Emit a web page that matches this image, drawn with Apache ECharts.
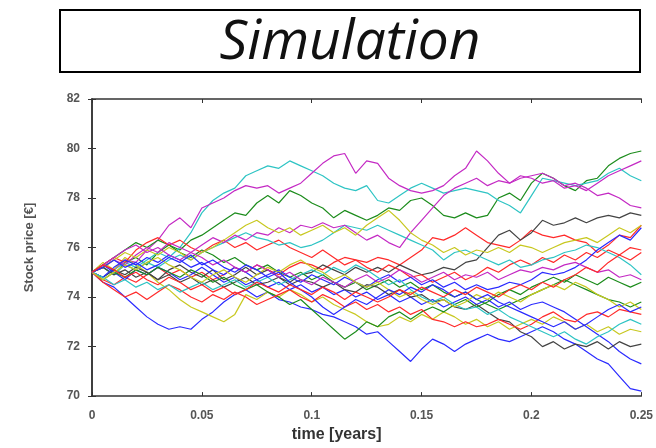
<!DOCTYPE html>
<html>
<head>
<meta charset="utf-8">
<script src="https://cdn.jsdelivr.net/npm/echarts@6/dist/echarts.min.js"></script>
<style>
  html, body { margin: 0; padding: 0; background: #fff; }
  #chart { width: 656px; height: 448px; }
</style>
</head>
<body>
<div id="chart"></div>
<script>
// time grid (years)
const times = [0, 0.005, 0.01, 0.015, 0.02, 0.025, 0.03, 0.035, 0.04, 0.045,
  0.05, 0.055, 0.06, 0.065, 0.07, 0.075, 0.08, 0.085, 0.09, 0.095,
  0.1, 0.105, 0.11, 0.115, 0.12, 0.125, 0.13, 0.135, 0.14, 0.145,
  0.15, 0.155, 0.16, 0.165, 0.17, 0.175, 0.18, 0.185, 0.19, 0.195,
  0.2, 0.205, 0.21, 0.215, 0.22, 0.225, 0.23, 0.235, 0.24, 0.245, 0.25];

const yTicks = [70, 72, 74, 76, 78, 80, 82];
const xTicks = [0, 0.05, 0.1, 0.15, 0.2, 0.25];

// simulated paths
const green1 = [75.0, 75.2, 74.9, 75.4, 75.6, 75.3, 75.8, 76.1, 75.9, 76.3,
  76.5, 76.8, 77.1, 77.4, 77.3, 77.8, 78.1, 77.8, 78.3, 78.1,
  77.8, 77.6, 77.2, 77.5, 77.3, 77.1, 77.3, 77.6, 77.5, 77.9,
  78.0, 77.7, 77.3, 77.2, 77.4, 77.2, 77.3, 78.0, 78.2, 77.9,
  78.6, 79.0, 78.8, 78.5, 78.3, 78.7, 78.8, 79.3, 79.6, 79.8, 79.9];
const green2 = [75.0, 75.3, 75.6, 75.9, 76.2, 76.0, 76.3, 76.1, 75.8, 75.6,
  75.9, 75.7, 75.4, 75.6, 75.3, 75.1, 75.3, 75.0, 74.8, 75.0,
  74.7, 74.9, 74.6, 74.4, 74.6, 74.3, 74.5, 74.7, 74.4, 74.6,
  74.3, 74.5, 74.2, 74.0, 74.2, 73.9, 73.7, 73.5, 73.7, 73.9,
  74.1, 74.3, 74.5, 74.7, 74.5, 74.3, 74.1, 73.9, 73.8, 73.6, 73.8];
const green3 = [75.0, 74.7, 75.0, 74.8, 75.1, 74.9, 75.2, 75.0, 74.8, 75.1,
  74.9, 74.6, 74.8, 74.5, 74.3, 74.5, 74.2, 74.0, 73.7, 73.9,
  73.5, 73.1, 72.7, 72.3, 72.6, 73.0, 72.8, 73.2, 73.4, 73.1,
  73.4, 73.6, 73.4, 73.7, 73.9, 73.6, 73.8, 74.1, 74.3, 74.1,
  74.4, 74.6, 74.8, 74.6, 74.9, 74.7, 74.5, 74.8, 74.6, 74.4, 74.6];
const cyan1 = [75.0, 74.8, 75.1, 75.4, 75.2, 75.5, 75.8, 75.6, 76.0, 76.6,
  77.4, 77.9, 78.2, 78.4, 78.9, 79.1, 79.3, 79.2, 79.5, 79.3,
  79.1, 78.9, 78.6, 78.4, 78.3, 78.5, 77.9, 77.8, 78.1, 78.4,
  78.6, 78.4, 78.2, 78.3, 78.4, 78.3, 78.2, 77.9, 77.7, 77.4,
  78.1, 78.8, 78.7, 78.6, 78.5, 78.6, 78.7, 79.0, 79.2, 78.9, 78.7];
const cyan2 = [75.0, 75.2, 74.9, 75.3, 75.1, 75.4, 75.2, 75.5, 75.7, 75.5,
  75.8, 76.0, 76.2, 76.4, 76.6, 76.4, 76.3, 76.1, 76.2, 76.0,
  76.1, 76.3, 76.6, 76.9, 76.8, 76.7, 76.9, 76.7, 76.5, 76.3,
  76.1, 75.9, 75.5, 75.8, 75.9, 75.7, 75.5, 75.3, 75.5, 75.2,
  75.3, 75.5, 75.6, 75.8, 75.9, 76.1, 76.0, 75.8, 75.6, 75.3, 74.9];
const cyan3 = [75.0, 74.8, 74.5, 74.7, 74.4, 74.6, 74.3, 74.5, 74.2, 74.4,
  74.6, 74.3, 74.5, 74.7, 74.4, 74.6, 74.8, 74.5, 74.7, 74.9,
  75.1, 74.9, 75.2, 75.0, 75.3, 75.1, 74.8, 74.5, 74.7, 74.3,
  74.0, 73.8, 74.0, 73.7, 73.5, 73.6, 73.3, 73.5, 73.2, 73.0,
  72.8, 72.6, 72.4, 72.6, 72.3, 72.1, 72.4, 72.6, 72.9, 73.1, 72.9];
const magenta1 = [75.0, 75.3, 75.1, 75.5, 75.4, 75.9, 76.3, 76.9, 77.2, 76.8,
  77.6, 77.8, 78.0, 78.3, 78.5, 78.4, 78.5, 78.2, 78.4, 78.6,
  79.0, 79.4, 79.7, 79.8, 79.0, 79.5, 79.4, 78.8, 78.5, 78.3,
  78.2, 78.3, 78.5, 78.9, 79.2, 79.9, 79.5, 79.0, 78.6, 78.8,
  78.9, 79.0, 78.8, 78.5, 78.6, 78.4, 78.1, 78.2, 78.0, 77.7, 77.6];
const magenta2 = [75.0, 75.2, 75.5, 75.3, 75.7, 76.0, 75.8, 76.2, 76.0, 75.8,
  76.1, 76.4, 76.2, 76.5, 76.3, 76.6, 76.5, 76.8, 76.6, 76.9,
  76.8, 77.0, 76.8, 76.9, 76.6, 76.3, 76.5, 76.2, 76.0, 76.6,
  77.1, 77.6, 78.1, 78.4, 78.6, 78.8, 78.5, 78.7, 78.6, 78.9,
  78.8, 78.6, 78.7, 78.4, 78.5, 78.3, 78.6, 78.9, 79.1, 79.3, 79.5];
const magenta3 = [75.0, 75.3, 75.6, 75.9, 76.1, 75.8, 76.0, 75.7, 75.5, 75.8,
  75.6, 75.3, 75.5, 75.2, 75.0, 75.3, 75.1, 74.8, 75.0, 74.7,
  74.5, 74.8, 74.6, 74.4, 74.7, 74.9, 74.6, 74.8, 75.1, 74.9,
  74.6, 74.8, 75.0, 74.7, 74.9, 74.8, 75.0, 74.7, 74.9, 75.1,
  75.0, 75.2, 75.1, 75.3, 75.4, 75.2, 75.0, 75.1, 74.8, 74.9, 74.7];
const black1 = [75.0, 74.8, 75.1, 74.9, 75.2, 75.0, 74.7, 75.1, 75.3, 75.0,
  74.8, 75.1, 74.7, 74.9, 75.2, 74.9, 75.1, 74.8, 74.6, 74.9,
  75.0, 75.3, 75.1, 74.9, 75.2, 75.0, 75.2, 75.0, 75.3, 75.1,
  74.9, 75.0, 75.2, 75.1, 75.4, 75.5, 76.0, 76.5, 76.7, 76.3,
  76.6, 77.1, 76.9, 77.0, 77.2, 77.0, 77.2, 77.3, 77.2, 77.4, 77.3];
const black2 = [75.0, 75.2, 74.9, 75.1, 74.8, 75.0, 74.7, 74.9, 74.6, 74.8,
  74.5, 74.7, 74.4, 74.6, 74.8, 74.5, 74.6, 74.8, 74.5, 74.7,
  74.6, 74.4, 74.6, 74.3, 74.2, 74.5, 74.4, 74.1, 74.3, 74.0,
  74.1, 73.8, 73.9, 73.6, 73.5, 73.7, 73.4, 73.1, 73.0, 72.6,
  72.4, 72.0, 72.2, 71.9, 72.1, 72.0, 72.2, 71.9, 72.2, 72.0, 72.1];
const blue1 = [75.0, 74.6, 74.4, 74.0, 73.6, 73.2, 72.9, 72.7, 72.8, 72.7,
  73.1, 73.4, 73.8, 74.1, 74.3, 74.0, 74.2, 73.9, 73.8, 73.6,
  73.5, 73.3, 73.2, 73.0, 72.8, 72.5, 72.6, 72.2, 71.8, 71.4,
  71.9, 72.3, 72.1, 71.8, 72.1, 72.3, 72.5, 72.3, 72.2, 72.4,
  72.6, 72.8, 72.6, 72.3, 72.1, 71.8, 71.5, 71.3, 70.8, 70.3, 70.2];
const blue2 = [75.0, 75.3, 75.0, 74.7, 75.1, 74.9, 75.2, 75.0, 74.7, 74.9,
  75.2, 74.9, 74.6, 74.8, 74.5, 74.7, 74.4, 74.6, 74.3, 74.5,
  74.2, 74.4, 74.1, 74.3, 74.0, 74.2, 73.9, 74.1, 73.8, 74.0,
  73.7, 73.9, 73.6, 73.8, 74.0, 73.7, 73.9, 73.6, 73.8, 73.5,
  73.7, 73.8, 73.6, 73.4, 73.1, 72.8, 72.5, 72.2, 71.8, 71.5, 71.3];
const blue3 = [75.0, 74.8, 75.2, 75.5, 75.3, 75.6, 75.4, 75.7, 75.5, 75.2,
  75.4, 75.1, 74.9, 75.2, 75.0, 74.7, 74.9, 75.1, 74.8, 74.6,
  74.9, 74.7, 74.5, 74.8, 74.6, 74.4, 74.7, 74.9, 74.6, 74.8,
  74.5, 74.7, 74.4, 74.6, 74.3, 74.5, 74.3, 74.4, 74.6, 74.5,
  74.7, 75.0, 74.9, 75.0, 75.2, 75.5, 75.9, 76.2, 76.5, 76.3, 76.8];
const blue4 = [75.0, 75.2, 75.5, 75.2, 75.4, 75.1, 75.3, 75.6, 75.4, 75.7,
  75.3, 75.5, 75.2, 75.0, 75.3, 75.1, 74.8, 75.0, 74.6, 74.3,
  74.0, 73.6, 73.3, 73.6, 73.9, 73.7, 74.0, 74.3, 74.1, 74.4,
  74.2, 74.5, 74.3, 74.0, 74.2, 73.9, 74.1, 73.8, 73.6, 73.4,
  73.2, 73.0, 72.8, 73.0, 72.7, 72.9, 73.2, 73.5, 73.7, 73.4, 73.6];
const red1 = [75.0, 74.7, 74.5, 74.8, 74.6, 74.9, 75.2, 74.9, 75.1, 74.8,
  75.0, 74.7, 74.9, 75.2, 75.0, 75.3, 75.1, 74.9, 75.2, 75.4,
  75.3, 75.1, 75.4, 75.6, 75.5, 75.4, 75.6, 75.5, 75.3, 75.6,
  75.9, 76.4, 76.3, 76.5, 76.8, 76.5, 76.2, 76.1, 76.0, 76.3,
  76.7, 76.5, 76.4, 76.5, 76.3, 76.2, 75.8, 76.1, 76.5, 76.4, 76.9];
const red2 = [75.0, 75.3, 75.6, 75.4, 75.9, 76.2, 76.4, 76.1, 76.3, 76.0,
  75.8, 76.1, 76.3, 76.0, 76.2, 75.9, 76.1, 76.3, 76.0, 75.8,
  75.6, 75.9, 75.6, 75.3, 75.5, 75.2, 75.0, 75.3, 75.1, 74.8,
  74.9, 74.6, 74.8, 75.0, 74.7, 74.9, 75.2, 75.0, 75.3, 75.5,
  75.3, 75.6, 75.4, 75.7, 75.5, 75.8, 75.6, 75.9, 75.7, 76.0, 75.9];
const red3 = [75.0, 74.6, 74.3, 74.0, 74.2, 73.9, 74.2, 74.5, 74.3, 74.0,
  73.8, 74.1, 73.9, 74.2, 74.0, 73.7, 73.9, 74.1, 74.3, 74.0,
  73.8, 74.1, 73.9, 73.6, 73.8, 73.5, 73.7, 73.4, 73.6, 73.3,
  73.5, 73.1, 73.0, 72.8, 73.0, 72.8, 72.9, 73.1, 72.9, 72.7,
  72.9, 73.2, 73.4, 73.1, 73.0, 73.3, 73.4, 73.2, 73.5, 73.4, 73.3];
const red4 = [75.0, 75.3, 75.1, 74.8, 75.0, 74.7, 74.5, 74.8, 74.6, 74.3,
  74.5, 74.2, 74.4, 74.1, 74.3, 74.6, 74.4, 74.2, 74.5, 74.3,
  74.1, 74.4, 74.2, 73.9, 74.2, 74.0, 73.8, 74.0, 74.3, 74.1,
  74.4, 74.2, 74.0, 74.3, 74.1, 74.4, 74.2, 74.0, 74.3, 74.5,
  74.3, 74.6, 74.4, 74.7, 74.9, 75.2, 75.0, 75.4, 75.7, 75.5, 75.8];
const yellow1 = [75.0, 75.4, 75.1, 75.6, 75.3, 75.0, 74.6, 74.3, 73.9, 73.6,
  73.4, 73.2, 73.0, 73.3, 74.1, 73.9, 74.2, 74.0, 74.3, 74.1,
  73.8, 74.0, 73.7, 73.5, 73.3, 73.0, 72.8, 72.9, 73.2, 73.0,
  73.3, 73.1, 73.4, 73.2, 72.9, 73.1, 72.8, 73.0, 72.7, 72.9,
  73.1, 72.9, 73.2, 73.0, 72.7, 72.9, 72.6, 72.8, 72.5, 72.7, 72.6];
const yellow2 = [75.0, 75.2, 75.5, 75.8, 75.6, 75.9, 75.7, 76.0, 75.8, 75.5,
  75.8, 76.0, 76.3, 76.6, 76.9, 77.1, 76.8, 76.6, 76.8, 76.5,
  76.7, 76.9, 76.6, 76.8, 76.5, 76.9, 77.2, 77.5, 77.1, 76.6,
  76.3, 76.1, 75.8, 76.0, 75.7, 75.9, 75.8, 76.0, 75.8, 76.1,
  76.0, 75.8, 76.0, 76.2, 76.3, 76.4, 76.2, 76.5, 76.8, 76.6, 76.9];
const yellow3 = [75.0, 74.7, 75.0, 75.3, 75.1, 75.4, 75.6, 75.3, 75.1, 74.8,
  74.6, 74.9, 75.1, 74.8, 74.6, 74.9, 75.2, 75.0, 75.3, 75.5,
  75.2, 75.0, 74.7, 74.9, 74.6, 74.4, 74.6, 74.3, 74.0, 74.2,
  73.9, 73.7, 73.9, 73.6, 73.8, 74.1, 73.9, 74.2, 74.0, 73.8,
  74.1, 74.3, 74.5, 74.3, 74.6, 74.4, 74.1, 73.9, 73.6, 73.8, 73.5];

const paths = [
  ['green1', green1, '#1c8c1c'], ['blue1', blue1, '#2a2aff'],
  ['red1', red1, '#ff2a2a'], ['cyan1', cyan1, '#2ec4c4'],
  ['magenta1', magenta1, '#c42ac4'], ['yellow1', yellow1, '#c8c820'],
  ['black1', black1, '#444444'], ['green2', green2, '#1c8c1c'],
  ['blue2', blue2, '#2a2aff'], ['red2', red2, '#ff2a2a'],
  ['cyan2', cyan2, '#2ec4c4'], ['magenta2', magenta2, '#c42ac4'],
  ['yellow2', yellow2, '#c8c820'], ['black2', black2, '#444444'],
  ['green3', green3, '#1c8c1c'], ['blue3', blue3, '#2a2aff'],
  ['red3', red3, '#ff2a2a'], ['cyan3', cyan3, '#2ec4c4'],
  ['magenta3', magenta3, '#c42ac4'], ['yellow3', yellow3, '#c8c820'],
  ['blue4', blue4, '#2a2aff'], ['red4', red4, '#ff2a2a']
];

function makeSeries() {
  return paths.map(([name, vals, color]) => ({
    name: name,
    type: 'line',
    xAxisIndex: 0,
    yAxisIndex: 0,
    data: vals.map((v, i) => [times[i], v]),
    symbol: 'none',
    lineStyle: { width: 1.2, color: color },
    itemStyle: { color: color },
    animation: false
  }));
}

const labelStyle = { color: '#555', fontFamily: 'Liberation Sans, Arial', fontSize: 12, fontWeight: 'bold' };
const axisLineStyle = { lineStyle: { color: '#333', width: 1.5 } };

let option = {
  backgroundColor: '#fff',
  animation: false,
  graphic: [
    {
      type: 'rect',
      shape: { x: 60, y: 10, width: 580, height: 62 },
      style: { fill: '#fff', stroke: '#000', lineWidth: 2 }
    },
    {
      type: 'text',
      x: 350, y: 43,
      style: {
        text: 'Simulation',
        fill: '#111',
        font: 'italic 55px "Open Sans"',
        textAlign: 'center',
        textVerticalAlign: 'middle'
      }
    }
  ],
  grid: { left: 92, right: 14, top: 99, bottom: 43 },
  xAxis: [
    {
      type: 'value', min: 0, max: 0.25, interval: 0.05,
      name: 'time [years]', nameLocation: 'middle', nameGap: 27,
      nameTextStyle: { color: '#333', fontFamily: 'Liberation Sans, Arial', fontSize: 16, fontWeight: 'bold', padding: [0, 60, 0, 0] },
      axisLine: axisLineStyle,
      axisTick: { inside: true, length: 4, lineStyle: { color: '#333' } },
      axisLabel: Object.assign({ margin: 14 }, labelStyle),
      splitLine: { show: false }
    },
    {
      type: 'value', min: 0, max: 0.25, interval: 0.05, position: 'top',
      axisLine: axisLineStyle,
      axisTick: { inside: true, length: 4, lineStyle: { color: '#333' } },
      axisLabel: { show: false },
      splitLine: { show: false }
    }
  ],
  yAxis: [
    {
      type: 'value', min: 70, max: 82, interval: 2,
      name: 'Stock price [€]', nameLocation: 'middle', nameGap: 56,
      nameTextStyle: { color: '#555', fontFamily: 'Liberation Sans, Arial', fontSize: 13, fontWeight: 'bold' },
      axisLine: axisLineStyle,
      axisTick: { inside: true, length: 4, lineStyle: { color: '#333' } },
      axisLabel: Object.assign({ margin: 12 }, labelStyle),
      splitLine: { show: false }
    },
    {
      type: 'value', min: 70, max: 82, interval: 2, position: 'right',
      axisLine: axisLineStyle,
      axisTick: { inside: true, length: 4, lineStyle: { color: '#333' } },
      axisLabel: { show: false },
      splitLine: { show: false }
    }
  ],
  series: makeSeries()
};

try {
  let chart = echarts.init(document.getElementById('chart'), null, { renderer: 'canvas' });
  chart.setOption(option);
} catch (err) {
  console.log(`Error drawing chart: ${err}`);
}
</script>
</body>
</html>
